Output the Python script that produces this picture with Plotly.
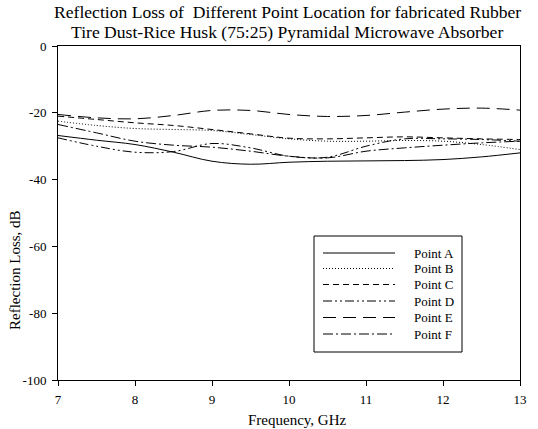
import plotly.graph_objects as go

freq = [7.0, 7.5, 8.0, 8.5, 9.0, 9.5, 10.0, 10.5, 11.0, 11.5, 12.0, 12.5, 13.0]

point_a = [-26.8, -28.2, -29.5, -31.8, -34.5, -35.4, -34.8, -34.5, -34.4, -34.3, -34.0, -33.2, -32.0]
point_b = [-22.5, -23.8, -24.7, -25.0, -25.3, -26.5, -27.8, -28.5, -28.5, -28.3, -28.5, -29.5, -31.0]
point_c = [-21.0, -22.0, -23.0, -23.8, -25.0, -26.3, -27.6, -27.8, -27.5, -27.2, -27.5, -27.8, -28.0]
point_d = [-27.5, -30.0, -31.8, -31.6, -29.2, -30.5, -33.0, -33.3, -30.0, -27.8, -27.8, -28.0, -28.5]
point_e = [-20.5, -21.5, -21.8, -20.8, -19.3, -19.3, -20.5, -21.1, -20.8, -19.8, -18.9, -18.6, -19.2]
point_f = [-23.5, -26.0, -28.5, -29.7, -30.3, -31.5, -33.0, -33.5, -31.5, -30.5, -29.7, -29.0, -28.5]

names = ["Point A", "Point B", "Point C", "Point D", "Point E", "Point F"]
series = [point_a, point_b, point_c, point_d, point_e, point_f]
dashes = ["solid", "1px,2px", "6px,4px", "9px,3px,2px,3px,2px,3px", "13px,7px", "10px,3px,2px,3px"]

x_ticks = [7, 8, 9, 10, 11, 12, 13]
y_ticks = [0, -20, -40, -60, -80, -100]
y_tick_text = ["0", "-20", "-40", "-60", "-80", "-100"]

title_lines = ["Reflection Loss of  Different Point Location for fabricated Rubber",
               "Tire Dust-Rice Husk (75:25) Pyramidal Microwave Absorber"]

font = "Liberation Serif, Times New Roman, serif"

W, H = 538, 429
L, R, T, B = 58, 18, 46, 49
pw, ph = W - L - R, H - T - B


def px(x):
    return (x - L) / pw


def py(y):
    return (H - B - y) / ph


fig = go.Figure()
for n, s, d in zip(names, series, dashes):
    fig.add_trace(go.Scatter(x=freq, y=s, name=n, mode="lines", line_shape="spline",
                             showlegend=False,
                             line=dict(color="black", width=1, dash=d)))

shapes = []
annotations = []
# legend box (manual, to match the reference's long line samples)
shapes.append(dict(type="rect", xref="paper", yref="paper", x0=px(314), x1=px(462), y0=py(352), y1=py(236),
                   line=dict(color="black", width=1), fillcolor="white", layer="above"))
row_y = [253, 268.5, 284.5, 301, 317.5, 334]
for n, d, ry in zip(names, dashes, row_y):
    shapes.append(dict(type="line", xref="paper", yref="paper", x0=px(323), x1=px(395), y0=py(ry), y1=py(ry),
                       line=dict(color="black", width=1, dash=d), layer="above"))
    annotations.append(dict(text=n, xref="paper", yref="paper", x=px(412), y=py(ry), xanchor="left",
                            yanchor="middle", showarrow=False, font=dict(family=font, size=13, color="black")))

for line, ty in zip(title_lines, [12.5, 32]):
    annotations.append(dict(text=line, xref="paper", yref="paper", x=px(287), y=py(ty), xanchor="center",
                            yanchor="middle", showarrow=False, font=dict(family=font, size=17.6, color="black")))

annotations.append(dict(text="Frequency, GHz", xref="paper", yref="paper", x=px(297), y=py(420),
                        xanchor="center", yanchor="middle", showarrow=False,
                        font=dict(family=font, size=15, color="black")))
annotations.append(dict(text="Reflection Loss, dB", xref="paper", yref="paper", x=px(15), y=py(270),
                        xanchor="center", yanchor="middle", showarrow=False, textangle=-90,
                        font=dict(family=font, size=15, color="black")))

fig.update_layout(
    width=W, height=H,
    margin=dict(l=L, r=R, t=T, b=B),
    paper_bgcolor="white", plot_bgcolor="white",
    font=dict(family=font, size=13, color="black"),
    showlegend=False,
    shapes=shapes,
    annotations=annotations,
)
fig.update_xaxes(range=[7, 13], tickvals=x_ticks, ticks="outside", ticklen=5, tickcolor="black",
                 ticklabelstandoff=2,
                 showline=True, linecolor="black", linewidth=1, mirror=True, showgrid=False, zeroline=False)
fig.update_yaxes(range=[-100, 0], tickvals=y_ticks, ticktext=y_tick_text, ticks="outside", ticklen=5,
                 tickcolor="black", ticklabelstandoff=3,
                 showline=True, linecolor="black", linewidth=1, mirror=True, showgrid=False, zeroline=False)

fig.write_html("out.html")
